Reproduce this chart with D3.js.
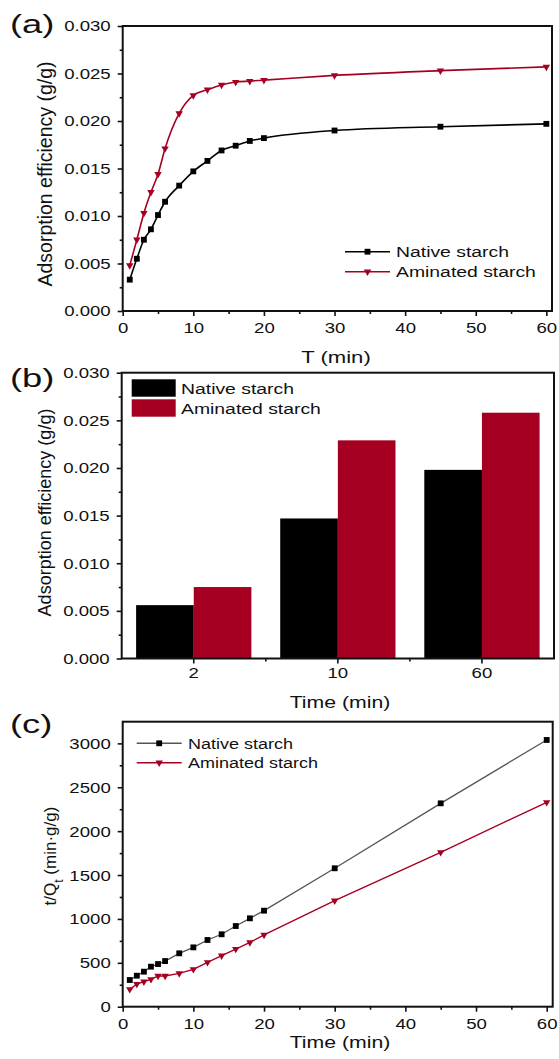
<!DOCTYPE html>
<html>
<head>
<meta charset="utf-8">
<script src="https://cdn.jsdelivr.net/npm/d3@7"></script>
<style>
  body { margin: 0; background: #fff; }
  text { font-family: "Liberation Sans", Arial, sans-serif; fill: #111; }
</style>
</head>
<body>
<script>
// ================= DATA =================
const times = [1, 2, 3, 4, 5, 6, 8, 10, 12, 14, 16, 18, 20, 30, 45, 60];
const nativeQ   = [0.0033, 0.0055, 0.0075, 0.0086, 0.0101, 0.0115, 0.0132, 0.0147, 0.0158, 0.0169, 0.0174, 0.0179, 0.0182, 0.0190, 0.0194, 0.0197];
const aminatedQ = [0.0048, 0.0075, 0.0103, 0.0125, 0.0144, 0.0171, 0.0208, 0.0227, 0.0233, 0.0238, 0.0241, 0.0242, 0.0243, 0.0248, 0.0253, 0.0257];

const barTimes    = ["2", "10", "60"];
const nativeBar   = [0.0056, 0.0147, 0.0198];
const aminatedBar = [0.0075, 0.0229, 0.0258];

const nativeTQ   = [304, 353, 399, 456, 486, 520, 608, 676, 760, 825, 919, 1007, 1094, 1577, 2317, 3039];
const aminatedTQ = [198, 258, 285, 312, 350, 350, 380, 426, 506, 581, 657, 733, 817, 1208, 1759, 2329];

const seriesNames = ["Native starch", "Aminated starch"];
const qTicks   = [0, 0.005, 0.010, 0.015, 0.020, 0.025, 0.030];
const qMinor   = [0.0025, 0.0075, 0.0125, 0.0175, 0.0225, 0.0275];
const tqTicks  = [0, 500, 1000, 1500, 2000, 2500, 3000];
const tqMinor  = [250, 750, 1250, 1750, 2250, 2750, 3250];
const timeTicks = [0, 10, 20, 30, 40, 50, 60];
const timeMinor = [5, 15, 25, 35, 45, 55];

const RED = "#A50021";
const SX = 1.2;   // text in the figure is a bit wide

const svg = d3.select("body").append("svg")
    .attr("width", 559)
    .attr("height", 1059);

// ---------- helpers ----------
function stretchTicks(g, sx) {
  g.selectAll(".tick text").each(function () {
    const t = d3.select(this);
    t.attr("x", (+t.attr("x") || 0) / sx).attr("transform", "scale(" + sx + ",1)");
  });
}

function label(x, y, txt, size, sx, anchor) {
  return svg.append("text")
      .attr("transform", "translate(" + x + "," + y + ") scale(" + sx + ",1)")
      .attr("text-anchor", anchor || "start")
      .style("font-size", size + "px")
      .text(txt);
}

function yTitle(x, y, size) {
  return svg.append("text")
      .attr("transform", "translate(" + x + "," + y + ") rotate(-90)")
      .attr("text-anchor", "middle")
      .style("font-size", size + "px");
}

function frame(p) {
  svg.append("rect")
      .attr("x", p.left).attr("y", p.top)
      .attr("width", p.right - p.left).attr("height", p.bottom - p.top)
      .attr("fill", "none").attr("stroke", "#111").attr("stroke-width", 2);
}

function leftAxis(p, y, major, minor, fmt) {
  const g = svg.append("g").attr("transform", "translate(" + p.left + ",0)");
  g.call(d3.axisLeft(y).tickValues(major).tickSize(5).tickPadding(7).tickFormat(fmt));
  g.append("g").call(d3.axisLeft(y).tickValues(minor).tickSize(3).tickFormat(""));
  g.selectAll(".domain").remove();
  g.selectAll("line").attr("stroke", "#111").attr("stroke-width", 1.6);
  g.selectAll("text").style("font-size", "15.5px").attr("fill", "#111")
      .style("font-family", '"Liberation Sans", Arial, sans-serif');
  stretchTicks(g, SX);
}

function bottomAxis(p, x, major, minor, pad) {
  const g = svg.append("g").attr("transform", "translate(0," + p.bottom + ")");
  g.call(d3.axisBottom(x).tickValues(major).tickSize(5).tickPadding(pad));
  if (minor) g.append("g").call(d3.axisBottom(x).tickValues(minor).tickSize(3).tickFormat(""));
  g.selectAll(".domain").remove();
  g.selectAll("line").attr("stroke", "#111").attr("stroke-width", 1.6);
  g.selectAll("text").style("font-size", "15.5px").attr("fill", "#111")
      .style("font-family", '"Liberation Sans", Arial, sans-serif');
  stretchTicks(g, SX);
  return g;
}

const sq = d3.symbol(d3.symbolSquare, 34);
const tri = d3.symbol(d3.symbolTriangle, 24);

function series(xs, ys, x, y, color, lineColor, lw, shape, curve) {
  const pts = xs.map((t, i) => [x(t), y(ys[i])]);
  svg.append("path")
      .attr("d", d3.line().curve(curve)(pts))
      .attr("fill", "none").attr("stroke", lineColor).attr("stroke-width", lw);
  svg.append("g").selectAll("path").data(pts).join("path")
      .attr("d", shape)
      .attr("transform", d => "translate(" + d[0] + "," + d[1] + ")" + (shape === tri ? " rotate(180)" : ""))
      .attr("fill", color);
}

function lineLegend(x0, x1, ys, colors, lineColors, tx, size, sx) {
  const shapes = [sq, tri];
  ys.forEach((yy, i) => {
    svg.append("line").attr("x1", x0).attr("x2", x1).attr("y1", yy).attr("y2", yy)
        .attr("stroke", lineColors[i]).attr("stroke-width", 1.6);
    svg.append("path").attr("d", shapes[i])
        .attr("transform", "translate(" + (x0 + x1) / 2 + "," + yy + ")" + (i ? " rotate(180)" : ""))
        .attr("fill", colors[i]);
    label(tx, yy + 5.5, seriesNames[i], size, sx);
  });
}

// ================= (a) kinetics =================
const pa = {left: 122.7, right: 552, top: 26, bottom: 311};
const xa = d3.scaleLinear().domain([0, 60.8]).range([pa.left, pa.right]);
const ya = d3.scaleLinear().domain([0, 0.030]).range([pa.bottom, pa.top]);

series(times, nativeQ, xa, ya, "#000", "#000", 1.6, sq, d3.curveMonotoneX);
series(times, aminatedQ, xa, ya, RED, RED, 1.6, tri, d3.curveMonotoneX);
frame(pa);
leftAxis(pa, ya, qTicks, qMinor, d3.format(".3f"));
bottomAxis(pa, xa, timeTicks, timeMinor, 6.3);
lineLegend(345, 390, [251.7, 271.7], ["#000", RED], ["#000", RED], 396, 15.5, 1.25);
label(336, 363.3, "T (min)", 17, 1.3, "middle");
yTitle(52, 174, 19.5).text("Adsorption efficiency (g/g)");
label(10, 32.8, "(a)", 26, 1.4);

// ================= (b) bars =================
const pb = {left: 121.7, right: 554, top: 372.7, bottom: 658.5};
const xb = d3.scaleBand().domain(barTimes).range([pb.left, pb.right]);
const xbInner = d3.scaleBand().domain(seriesNames)
    .range([xb.bandwidth() * 0.1, xb.bandwidth() * 0.9]);
const yb = d3.scaleLinear().domain([0, 0.030]).range([pb.bottom, pb.top]);
const barRows = barTimes.map((t, i) => ({t: t, vals: [nativeBar[i], aminatedBar[i]]}));

svg.append("g").selectAll("g").data(barRows).join("g")
    .attr("transform", d => "translate(" + xb(d.t) + ",0)")
  .selectAll("rect").data(d => d.vals.map((v, i) => ({name: seriesNames[i], v: v})))
  .join("rect")
    .attr("x", d => xbInner(d.name))
    .attr("width", xbInner.bandwidth())
    .attr("y", d => yb(d.v))
    .attr("height", d => yb(0) - yb(d.v))
    .attr("fill", (d, i) => i ? RED : "#000");

frame(pb);
leftAxis(pb, yb, qTicks, qMinor, d3.format(".3f"));
const gb = svg.append("g").attr("transform", "translate(0," + pb.bottom + ")");
gb.call(d3.axisBottom(xb).tickSize(5).tickPadding(3.2));
// minor ticks between groups
gb.selectAll(".sep").data(barTimes.slice(1)).join("line")
    .attr("x1", d => xb(d)).attr("x2", d => xb(d)).attr("y1", 0).attr("y2", 3);
gb.selectAll(".domain").remove();
gb.selectAll("line").attr("stroke", "#111").attr("stroke-width", 1.6);
gb.selectAll("text").style("font-size", "15.5px").attr("fill", "#111")
    .style("font-family", '"Liberation Sans", Arial, sans-serif');
stretchTicks(gb, SX);

[0, 1].forEach(i => {
  svg.append("rect").attr("x", 131.7).attr("y", 379.3 + i * 20)
      .attr("width", 44).attr("height", 17.4)
      .attr("fill", i ? RED : "#000");
  label(181, 393.5 + i * 20, seriesNames[i], 15.5, 1.25);
});
label(340, 708.3, "Time (min)", 17, 1.25, "middle");
yTitle(51.4, 512.5, 18).text("Adsorption efficiency (g/g)");
label(10, 387, "(b)", 26, 1.4);

// ================= (c) pseudo-second-order =================
const pc = {left: 122.7, right: 552.7, top: 721.7, bottom: 1006.7};
const xc = d3.scaleLinear().domain([0, 60.85]).range([pc.left, pc.right]);
const yc = d3.scaleLinear().domain([0, 3247]).range([pc.bottom, pc.top]);

series(times, nativeTQ, xc, yc, "#000", "#555", 1.3, sq, d3.curveLinear);
series(times, aminatedTQ, xc, yc, RED, RED, 1.4, tri, d3.curveLinear);
frame(pc);
leftAxis(pc, yc, tqTicks, tqMinor.filter(v => v < 3247), d3.format("d"));
bottomAxis(pc, xc, timeTicks, timeMinor, 6.6);
lineLegend(136.7, 181.7, [743.3, 762.7], ["#000", RED], ["#555", RED], 188, 15, 1.2);
label(340, 1048.3, "Time (min)", 17, 1.25, "middle");
const tc = yTitle(56, 856, 17);
tc.append("tspan").text("t/Q");
tc.append("tspan").text("t").attr("baseline-shift", "sub").style("font-size", "12px");
tc.append("tspan").text(" (min\u00b7g/g)");
label(10, 732.8, "(c)", 26, 1.4);
</script>
</body>
</html>
